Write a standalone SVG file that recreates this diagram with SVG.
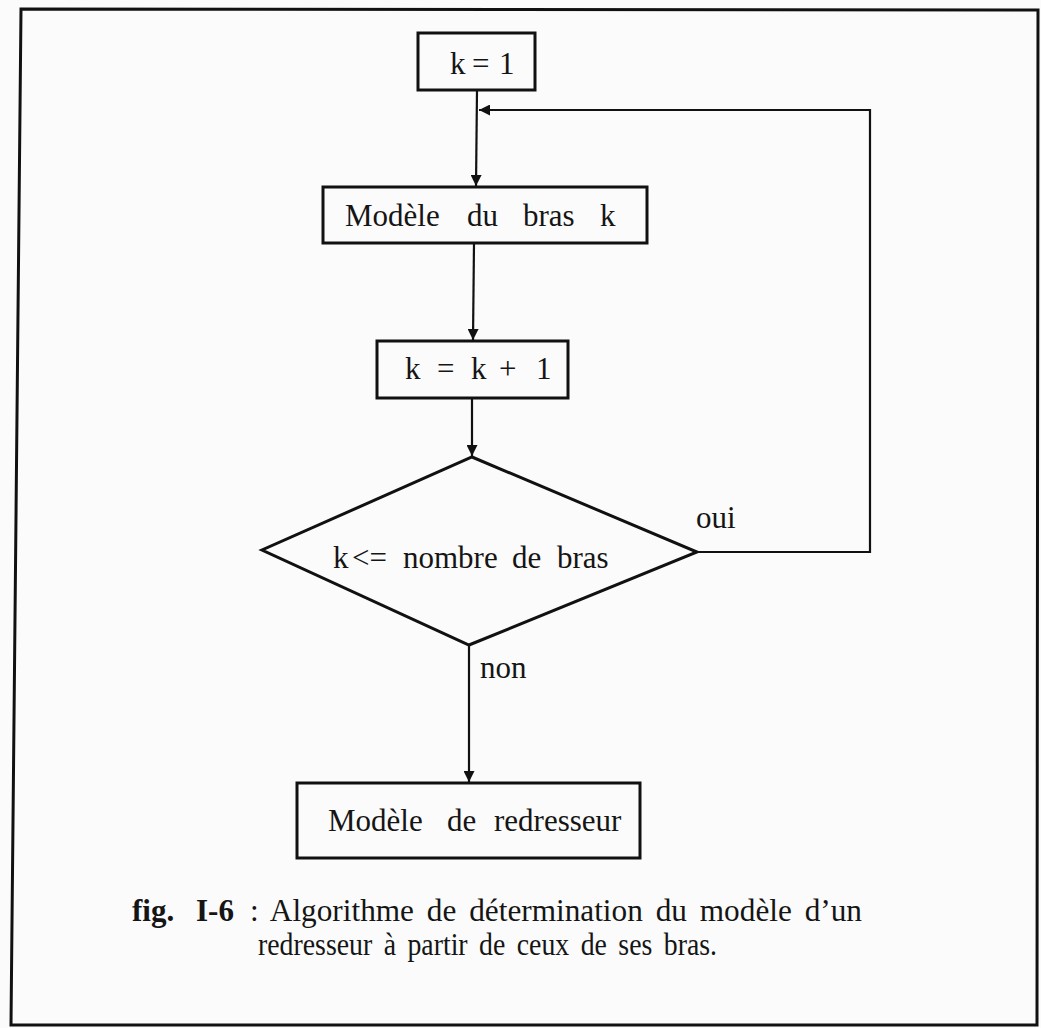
<svg xmlns="http://www.w3.org/2000/svg" width="1041" height="1028" viewBox="0 0 1041 1028">
<defs>
<style>
.bg{fill:#fbfbfb}
.frame{fill:none;stroke:#111;stroke-width:3}
.box{fill:none;stroke:#111;stroke-width:3}
.ln{fill:none;stroke:#111;stroke-width:2.2}
.t{font-family:"Liberation Serif","Times New Roman",serif;font-size:31px;fill:#151515}
.c{font-family:"Liberation Serif","Times New Roman",serif;font-size:31px;fill:#151515}
.b{font-weight:bold}
</style>
<marker id="ah" viewBox="0 0 10 10" refX="10" refY="5" markerWidth="11" markerHeight="11" markerUnits="userSpaceOnUse" orient="auto">
<path d="M0,0 L10,5 L0,10 z" fill="#111"/>
</marker>
</defs>
<rect class="bg" x="0" y="0" width="1041" height="1028"/>
<polygon class="frame" points="21,9 1038,10 1037,1025 11,1025"/>

<g id="connectors">
<line class="ln" x1="477" y1="90" x2="476" y2="186" marker-end="url(#ah)"/>
<polyline class="ln" points="697,552 870,552 870,110 479,110" marker-end="url(#ah)"/>
<line class="ln" x1="474" y1="243" x2="473" y2="340" marker-end="url(#ah)"/>
<line class="ln" x1="472" y1="398" x2="472" y2="456" marker-end="url(#ah)"/>
<line class="ln" x1="469" y1="645" x2="469" y2="782" marker-end="url(#ah)"/>
<text class="t" x="696" y="528">oui</text>
<text class="t" x="480" y="678">non</text>
</g>

<g id="n_init">
<rect class="box" x="418" y="33" width="117" height="57"/>
<text class="t" y="74"><tspan x="450">k</tspan><tspan x="472">=</tspan><tspan x="499">1</tspan></text>
</g>

<g id="n_modele_bras">
<rect class="box" x="323" y="187" width="324" height="56"/>
<text class="t" y="226"><tspan x="345">Modèle</tspan><tspan x="467">du</tspan><tspan x="523">bras</tspan><tspan x="600">k</tspan></text>
</g>

<g id="n_incr">
<rect class="box" x="377" y="341" width="191" height="57"/>
<text class="t" y="379"><tspan x="405">k</tspan><tspan x="437">=</tspan><tspan x="471">k</tspan><tspan x="499">+</tspan><tspan x="536">1</tspan></text>
</g>

<g id="n_test">
<polygon class="box" points="472,457 697,552 469,645 262,550"/>
<text class="t" y="568"><tspan x="333">k</tspan><tspan x="352">&lt;=</tspan><tspan x="403">nombre</tspan><tspan x="512">de</tspan><tspan x="557">bras</tspan></text>
</g>

<g id="n_redresseur">
<rect class="box" x="297" y="783" width="343" height="75"/>
<text class="t" y="831"><tspan x="328">Modèle</tspan><tspan x="447">de</tspan><tspan x="494">redresseur</tspan></text>
</g>

<g id="caption">
<text class="c b" y="921"><tspan x="132">fig.</tspan><tspan x="196">I-6</tspan></text>
<text class="c" x="250" y="921" textLength="612" lengthAdjust="spacingAndGlyphs" word-spacing="5">: Algorithme de détermination du modèle d’un</text>
<text class="c" x="258" y="955" textLength="459" lengthAdjust="spacingAndGlyphs" word-spacing="5">redresseur à partir de ceux de ses bras.</text>
</g>
</svg>
